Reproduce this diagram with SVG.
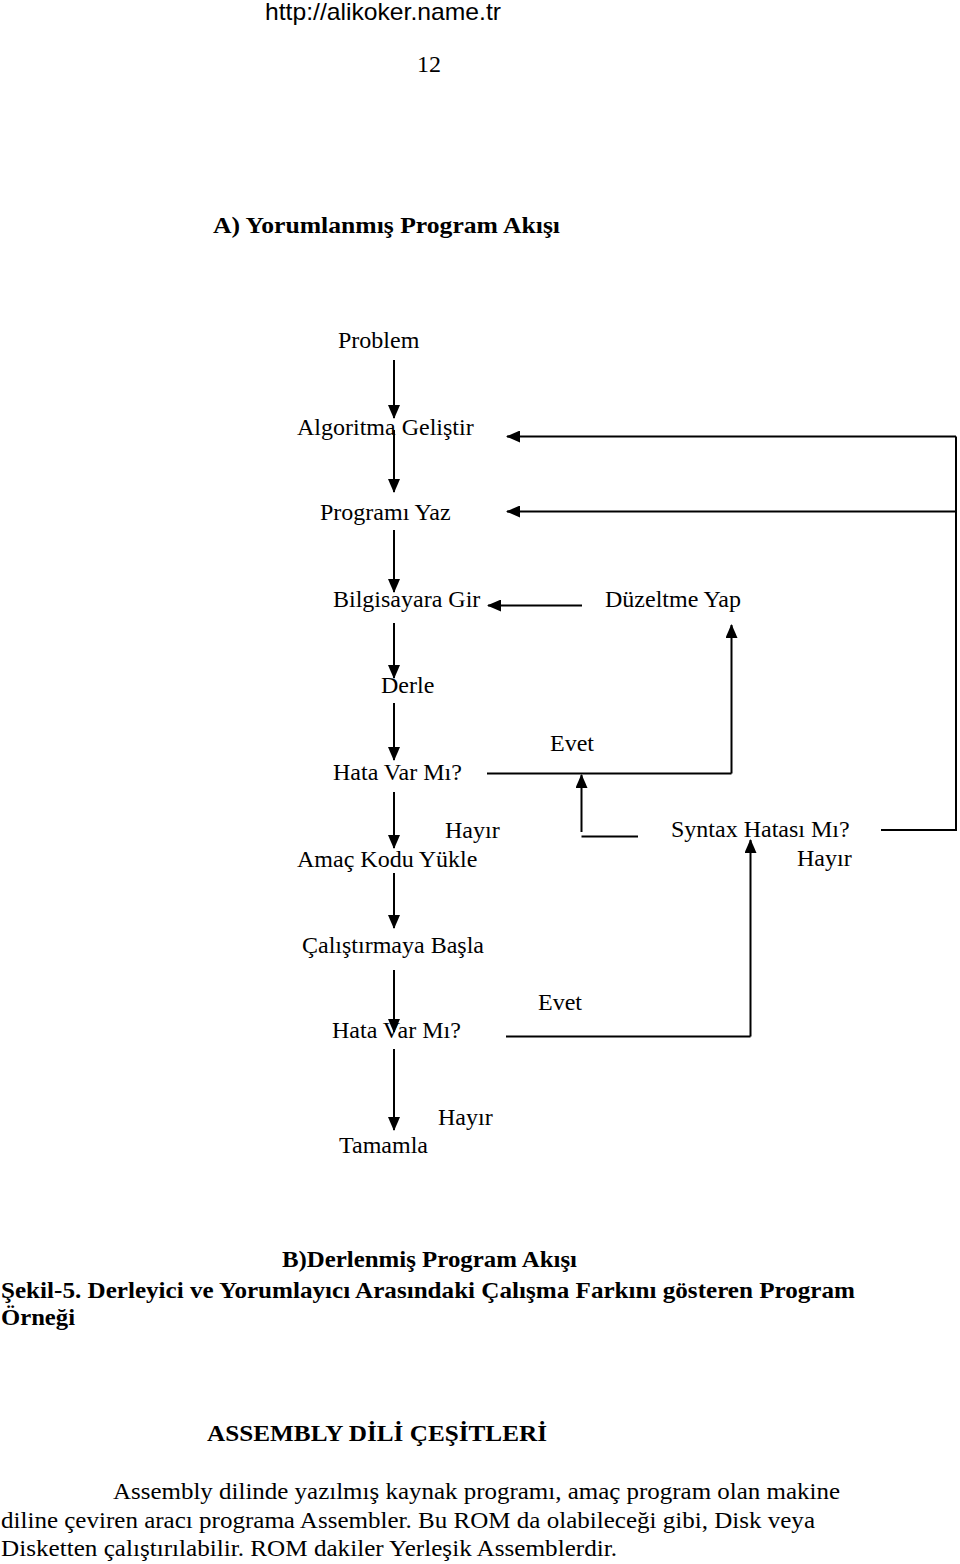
<svg xmlns="http://www.w3.org/2000/svg" width="960" height="1564" viewBox="0 0 960 1564">
<style>
.t{font-family:"Liberation Serif","Times New Roman",serif;font-size:24px;fill:#000}
.b{font-family:"Liberation Serif","Times New Roman",serif;font-size:23px;font-weight:bold;fill:#000}
.p{font-family:"Liberation Serif","Times New Roman",serif;font-size:23px;fill:#000}
.s{font-family:"Liberation Sans",Arial,sans-serif;font-size:24px;fill:#000}
.ln{stroke:#000;stroke-width:2;fill:none}
.ar{stroke:#000;stroke-width:2;fill:none;marker-end:url(#ah)}
</style>
<defs>
<marker id="ah" markerUnits="userSpaceOnUse" markerWidth="14" markerHeight="12" refX="13" refY="6" orient="auto">
<path d="M0,0 L14,6 L0,12 z" fill="#000"/>
</marker>
</defs>
<rect width="960" height="1564" fill="#fff"/>
<g id="header">
<text class="s" x="265" y="20" textLength="236" lengthAdjust="spacingAndGlyphs">http://alikoker.name.tr</text>
<text class="t" x="417" y="72">12</text>
<text class="b" x="213" y="233" textLength="347" lengthAdjust="spacingAndGlyphs" font-size="24">A)  Yorumlanmış Program Akışı</text>
</g>
<g id="connectors">
<line class="ar" x1="394" y1="360" x2="394" y2="418"/>
<line class="ar" x1="394" y1="430" x2="394" y2="492"/>
<line class="ar" x1="394" y1="530" x2="394" y2="592"/>
<line class="ar" x1="394" y1="623" x2="394" y2="678"/>
<line class="ar" x1="394" y1="703" x2="394" y2="760"/>
<line class="ar" x1="394" y1="792" x2="394" y2="848"/>
<line class="ar" x1="394" y1="873" x2="394" y2="928"/>
<line class="ar" x1="394" y1="970" x2="394" y2="1032"/>
<line class="ar" x1="394" y1="1049" x2="394" y2="1130"/>
<polyline class="ln" points="881,830 956,830 956,436.5"/>
<line class="ar" x1="956" y1="436.5" x2="507" y2="436.5"/>
<line class="ar" x1="956" y1="511.5" x2="507" y2="511.5"/>
<line class="ar" x1="582" y1="605.5" x2="488" y2="605.5"/>
<line class="ln" x1="487" y1="773.5" x2="731.5" y2="773.5"/>
<line class="ar" x1="731.5" y1="773.5" x2="731.5" y2="625"/>
<polyline class="ln" points="638,836.5 581.5,836.5"/>
<line class="ar" x1="581.5" y1="832" x2="581.5" y2="775"/>
<line class="ln" x1="506" y1="1036.5" x2="750.5" y2="1036.5"/>
<line class="ar" x1="750.5" y1="1036.5" x2="750.5" y2="840"/>
</g>
<g id="n-problem"><text class="t" x="338" y="348">Problem</text></g>
<g id="n-algoritma"><text class="t" x="297" y="435">Algoritma Geliştir</text></g>
<g id="n-program"><text class="t" x="320" y="520">Programı Yaz</text></g>
<g id="n-bilgisayar"><text class="t" x="333" y="607">Bilgisayara Gir</text></g>
<g id="n-duzeltme"><text class="t" x="605" y="607">Düzeltme Yap</text></g>
<g id="n-derle"><text class="t" x="381" y="693">Derle</text></g>
<g id="n-hata1"><text class="t" x="333" y="780">Hata Var Mı?</text></g>
<g id="l-evet1"><text class="t" x="550" y="751">Evet</text></g>
<g id="l-hayir1"><text class="t" x="445" y="838">Hayır</text></g>
<g id="n-amac"><text class="t" x="297" y="867">Amaç Kodu Yükle</text></g>
<g id="n-syntax"><text class="t" x="671" y="837">Syntax Hatası Mı?</text></g>
<g id="l-hayir2"><text class="t" x="797" y="866">Hayır</text></g>
<g id="n-calistir"><text class="t" x="302" y="953">Çalıştırmaya Başla</text></g>
<g id="l-evet2"><text class="t" x="538" y="1010">Evet</text></g>
<g id="n-hata2"><text class="t" x="332" y="1038">Hata Var Mı?</text></g>
<g id="l-hayir3"><text class="t" x="438" y="1125">Hayır</text></g>
<g id="n-tamamla"><text class="t" x="339" y="1153">Tamamla</text></g>
<g id="caption">
<text class="b" x="282" y="1267" textLength="295" lengthAdjust="spacingAndGlyphs">B)Derlenmiş Program Akışı</text>
<text class="b" x="1" y="1298" textLength="854" lengthAdjust="spacingAndGlyphs">Şekil-5. Derleyici ve Yorumlayıcı Arasındaki Çalışma Farkını gösteren Program</text>
<text class="b" x="1" y="1325" textLength="74" lengthAdjust="spacingAndGlyphs">Örneği</text>
</g>
<g id="section">
<text class="b" x="207" y="1441" textLength="340" lengthAdjust="spacingAndGlyphs">ASSEMBLY DİLİ ÇEŞİTLERİ</text>
<text class="p" x="113" y="1499" textLength="727" lengthAdjust="spacingAndGlyphs">Assembly dilinde yazılmış kaynak programı, amaç program olan makine</text>
<text class="p" x="1" y="1528" textLength="814" lengthAdjust="spacingAndGlyphs">diline çeviren aracı programa Assembler. Bu ROM da olabileceği gibi, Disk veya</text>
<text class="p" x="1" y="1556" textLength="616" lengthAdjust="spacingAndGlyphs">Disketten çalıştırılabilir. ROM dakiler Yerleşik Assemblerdir.</text>
</g>
</svg>
